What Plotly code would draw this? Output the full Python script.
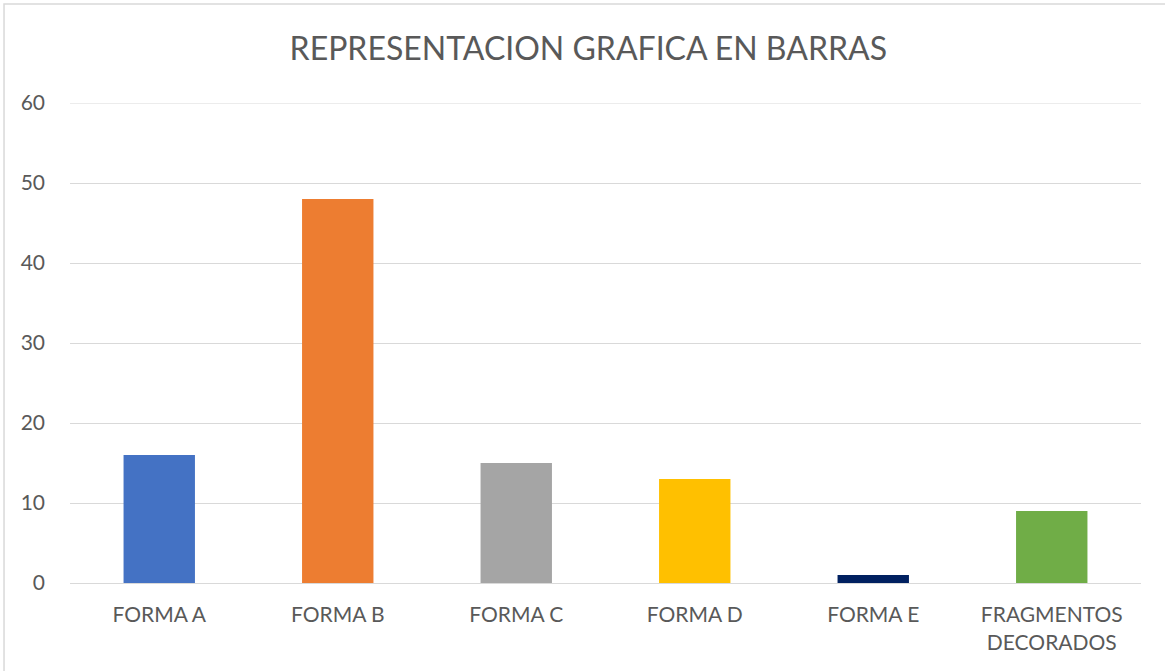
import plotly.graph_objects as go

categories = ["FORMA A", "FORMA B", "FORMA C", "FORMA D", "FORMA E", "FRAGMENTOS<br>DECORADOS"]
values = [16, 48, 15, 13, 1, 9]
bar_colors = ["#4472C4", "#ED7D31", "#A5A5A5", "#FFC000", "#002060", "#70AD47"]
y_ticks = [0, 10, 20, 30, 40, 50, 60]

FONT = "Lato, Open Sans, sans-serif"
TEXT = "#595959"
GRID = "#D9D9D9"

fig = go.Figure(
    go.Bar(
        x=categories,
        y=values,
        marker=dict(color=bar_colors, line=dict(width=0)),
        hoverinfo="x+y",
    )
)

fig.update_layout(
    width=1165,
    height=671,
    margin=dict(l=70, r=24, t=103, b=88),
    paper_bgcolor="white",
    plot_bgcolor="white",
    bargap=0.6,
    showlegend=False,
    font=dict(family=FONT, color=TEXT, size=21),
    title=dict(
        text="REPRESENTACION GRAFICA EN BARRAS",
        x=0.505,
        xanchor="center",
        y=0.928,
        yanchor="middle",
        font=dict(family=FONT, size=32, color=TEXT),
    ),
    xaxis=dict(
        showgrid=False,
        showline=True,
        linecolor=GRID,
        linewidth=1,
        ticks="",
        tickfont=dict(size=21, color=TEXT),
        ticklabelstandoff=13,
    ),
    yaxis=dict(
        range=[0, y_ticks[-1]],
        tickvals=y_ticks,
        showgrid=True,
        gridcolor=GRID,
        gridwidth=1,
        zeroline=False,
        showline=False,
        ticks="",
        tickfont=dict(size=21, color=TEXT),
        ticklabelstandoff=24,
    ),
    shapes=[
        # outer chart frame
        dict(
            type="rect",
            xref="paper",
            yref="paper",
            x0=-0.0616,
            x1=1.2,
            y0=-0.4,
            y1=1.206,
            line=dict(color=GRID, width=1.5),
            fillcolor="rgba(0,0,0,0)",
            layer="below",
        ),
        # top gridline at the axis maximum
        dict(
            type="line",
            xref="paper",
            yref="y",
            x0=0,
            x1=1,
            y0=y_ticks[-1],
            y1=y_ticks[-1],
            line=dict(color=GRID, width=1),
            layer="below",
        ),
    ],
)

fig.write_html("out.html")
